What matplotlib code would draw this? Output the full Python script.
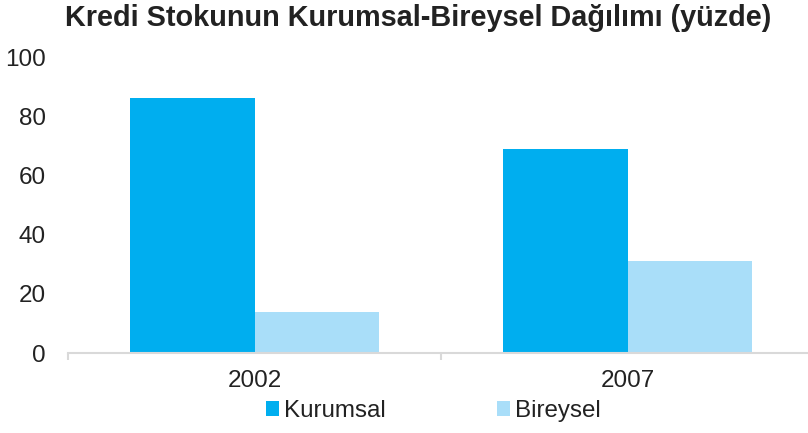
import matplotlib
matplotlib.use("Agg")
import matplotlib.pyplot as plt
import numpy as np

categories = ["2002", "2007"]
kurumsal = [86, 69]
bireysel = [14, 31]
series_names = ["Kurumsal", "Bireysel"]
title = "Kredi Stokunun Kurumsal-Bireysel Dağılımı (yüzde)"

plt.rcParams['font.family'] = ['Liberation Sans', 'DejaVu Sans']
W, H = 808, 433
fig = plt.figure(figsize=(W/100, H/100), dpi=100)
ax = fig.add_axes([68/W, 1-353/H, 746/W, (353-57)/H])

x = np.arange(len(categories))
bw = 0.333
c1 = "#00AEEF"
c2 = "#A9DEF9"
ax.bar(x - bw/2, kurumsal, bw, color=c1, label=series_names[0])
ax.bar(x + bw/2, bireysel, bw, color=c2, label=series_names[1])

ax.set_xlim(-0.5, len(categories) - 0.5)
ax.set_ylim(0, 100)
ax.set_yticks([0, 20, 40, 60, 80, 100])
ax.set_xticks(x)
ax.set_xticklabels(categories)
for s in ["top", "right", "left"]:
    ax.spines[s].set_visible(False)
ax.spines["bottom"].set_color("#D9D9D9")
ax.spines["bottom"].set_linewidth(1.5)
ax.tick_params(axis="y", length=0, labelsize=17.5, colors="#222222", pad=16)
ax.tick_params(axis="x", length=0, labelsize=17.5, colors="#222222", pad=12)
ax.set_xticks([-0.5, 0.5, 1.5], minor=True)
ax.tick_params(axis="x", which="minor", length=5, color="#D9D9D9", width=1.5)

fig.text(418/W, 1-18/H, title, ha="center", va="center", fontsize=20.8,
         fontweight="bold", color="#222222")

leg = ax.legend(loc="center", bbox_to_anchor=(433/W, 1-411/H), bbox_transform=fig.transFigure,
                ncol=2, frameon=False, fontsize=17.4, handlelength=0.55, handleheight=0.55,
                handletextpad=0.2, columnspacing=4.6, borderpad=0, borderaxespad=0)
for t in leg.get_texts():
    t.set_color("#222222")

fig.savefig("out.png", dpi=100)
